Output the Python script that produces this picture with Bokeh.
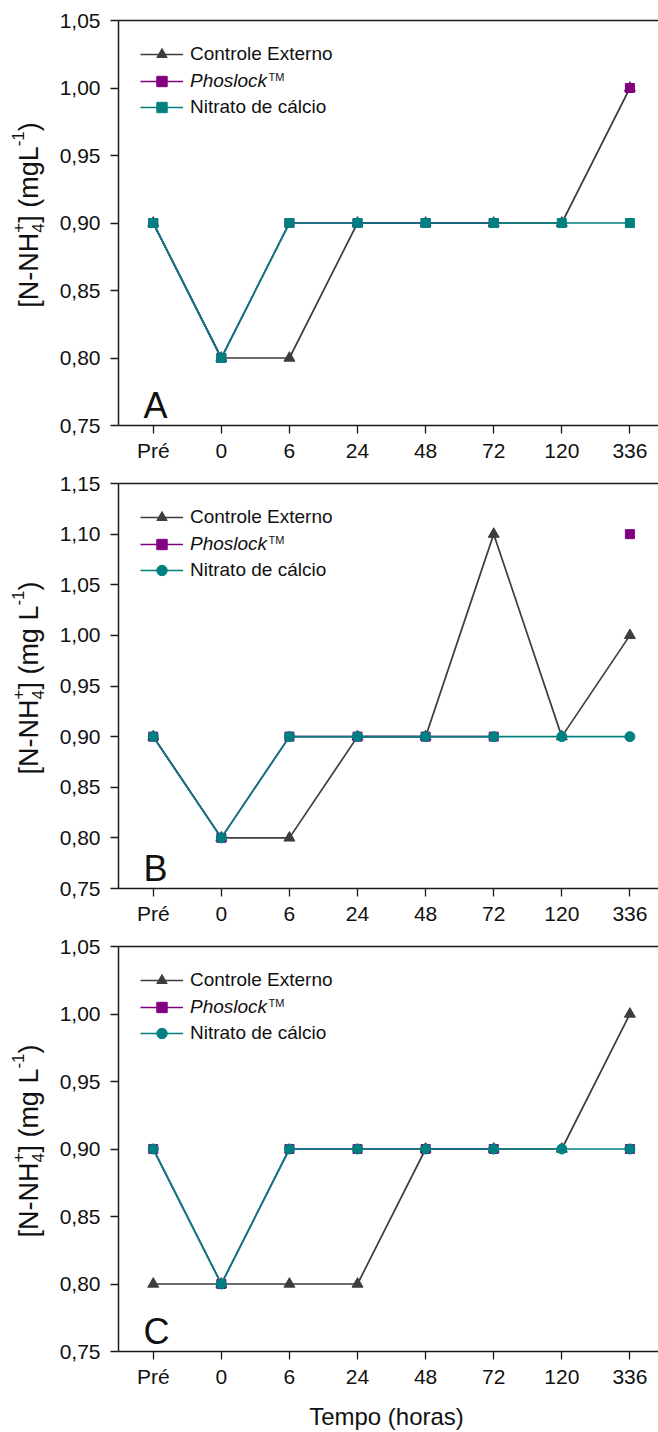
from bokeh.plotting import figure
from bokeh.layouts import column
from bokeh.models import (Range1d, FixedTicker, CustomJSTickFormatter, LinearAxis,
                          Legend, LegendItem, Label)
from bokeh.embed import file_html
from bokeh.resources import INLINE

nan = float("nan")

# sampling times (hours)
times = ["Pré", "0", "6", "24", "48", "72", "120", "336"]

# panel A
a_controle = [0.90, 0.80, 0.80, 0.90, 0.90, 0.90, 0.90, 1.00]
a_phoslock = [0.90, 0.80, 0.90, 0.90, 0.90, 0.90, nan, 1.00]
a_nitrato = [0.90, 0.80, 0.90, 0.90, 0.90, 0.90, 0.90, 0.90]
a_yticks = [0.75, 0.80, 0.85, 0.90, 0.95, 1.00, 1.05]

# panel B
b_controle = [0.90, 0.80, 0.80, 0.90, 0.90, 1.10, 0.90, 1.00]
b_phoslock = [0.90, 0.80, 0.90, 0.90, 0.90, 0.90, nan, 1.10]
b_nitrato = [0.90, 0.80, 0.90, 0.90, 0.90, 0.90, 0.90, 0.90]
b_yticks = [0.75, 0.80, 0.85, 0.90, 0.95, 1.00, 1.05, 1.10, 1.15]

# panel C
c_controle = [0.80, 0.80, 0.80, 0.80, 0.90, 0.90, 0.90, 1.00]
c_phoslock = [0.90, 0.80, 0.90, 0.90, 0.90, 0.90, nan, 0.90]
c_nitrato = [0.90, 0.80, 0.90, 0.90, 0.90, 0.90, 0.90, 0.90]
c_yticks = [0.75, 0.80, 0.85, 0.90, 0.95, 1.00, 1.05]

FONT = "Liberation Sans"
AXIS = "#1a1a1a"
TXT = "#111111"
C_CTRL = "#3d3d3d"
C_PHOS = "#800080"
C_NIT = "#008080"

X_LO, X_HI = -0.51, 7.42      # extent of the drawn axes (category units)
PX_PER_CAT = 68.09
LEFT_PAD = 118                # room for the y axis, inside the frame
TOP_PAD = 20
PLOT_H = 405                  # height of the axes box

# Arial-compatible advance widths (em) for the y-axis title pieces
ADV = {"[": .278, "]": .278, "N": .722, "H": .722, "-": .333, " ": .278, "(": .333,
       ")": .333, "m": .833, "g": .556, "L": .556, "4": .556, "+": .584, "1": .556}


def text_len(s, size):
    return sum(ADV[ch] for ch in s) * size


def add_ylabel(p, unit, base):
    big, small = 27, 17
    x0 = 28
    pieces = [("[N-NH", big, 0, True), ("4", small, 9, False), ("+", small, -11, True),
              ("] (" + unit, big, 0, True), ("-1", small, -11, True), (")", big, 0, True)]
    total = text_len("[N-NH", big) + text_len("+", small) + text_len("] (" + unit, big) \
        + text_len("-1", small) + text_len(")", big)
    y = base + PLOT_H / 2 + 8 - total / 2
    for txt, size, dx, advance in pieces:
        p.add_layout(Label(x=x0 + dx, y=y, x_units="screen", y_units="screen", text=txt,
                           angle=1.5707963267948966, text_font=FONT,
                           text_font_size=f"{size}px", text_color=TXT,
                           text_align="left", text_baseline="middle"))
        if advance:
            y += text_len(txt, size)


def add_legend(p, label, renderers, vy, italic=False):
    lg = Legend(items=[LegendItem(label=label, renderers=renderers)],
                location=(LEFT_PAD + 22, vy - 13),
                padding=0, margin=0, spacing=0, border_line_color=None,
                background_fill_alpha=0, glyph_width=43, glyph_height=26,
                label_standoff=7, label_height=26, label_text_font=FONT,
                label_text_font_size="19px", label_text_color=TXT,
                label_text_font_style="italic" if italic else "normal")
    p.add_layout(lg)


def panel(ctrl, phos, nitr, yticks, nit_marker, letter, unit, bottom, title=None):
    y0, y1 = yticks[0], yticks[-1]
    ppu = PLOT_H / (y1 - y0)
    H = TOP_PAD + PLOT_H + bottom
    p = figure(width=658, height=H, frame_width=658, frame_height=H,
               x_range=Range1d(X_LO - LEFT_PAD / PX_PER_CAT, X_HI),
               y_range=Range1d(y0 - bottom / ppu, y1 + TOP_PAD / ppu),
               output_backend="svg", toolbar_location=None,
               min_border=0, background_fill_color="white", border_fill_color="white")
    p.outline_line_color = None
    p.xgrid.visible = False
    p.ygrid.visible = False

    xs = list(range(len(times)))
    l1 = p.line(xs, ctrl, line_color=C_CTRL, line_width=1.7)
    m1 = p.scatter(xs, ctrl, marker="triangle", size=11, fill_color=C_CTRL, line_color=C_CTRL)
    l2 = p.line(xs, phos, line_color=C_PHOS, line_width=1.7)
    m2 = p.scatter(xs, phos, marker="square", size=9, fill_color=C_PHOS, line_color=C_PHOS)
    l3 = p.line(xs, nitr, line_color=C_NIT, line_width=1.7)
    m3 = p.scatter(xs, nitr, marker=nit_marker, size=10 if nit_marker == "circle" else 9,
                   fill_color=C_NIT, line_color=C_NIT)

    for ax in (p.xaxis[0], p.yaxis[0]):
        ax.axis_line_color = AXIS
        ax.axis_line_width = 1.5
        ax.major_tick_line_color = AXIS
        ax.major_tick_line_width = 1.3
        ax.major_tick_out = 8
        ax.major_tick_in = 0
        ax.minor_tick_line_color = None
        ax.major_label_text_font = FONT
        ax.major_label_text_font_size = "21px"
        ax.major_label_text_color = TXT

    p.xaxis.ticker = FixedTicker(ticks=xs)
    p.xaxis.bounds = (X_LO, X_HI)
    p.xaxis.fixed_location = y0
    p.xaxis.major_label_overrides = {i: t for i, t in enumerate(times)}
    p.xaxis.major_label_standoff = 5
    p.yaxis.fixed_location = X_LO
    p.yaxis.bounds = (y0, y1)
    p.yaxis.ticker = FixedTicker(ticks=yticks)
    p.yaxis.formatter = CustomJSTickFormatter(code="return tick.toFixed(2).replace('.', ',');")
    p.yaxis.major_label_standoff = 10

    top = LinearAxis(ticker=FixedTicker(ticks=[]), major_label_text_font_size="0px",
                     major_tick_line_color=None, minor_tick_line_color=None,
                     axis_line_color=AXIS, axis_line_width=1.5, bounds=(X_LO, X_HI),
                     fixed_location=y1)
    p.add_layout(top, "above")

    add_legend(p, "Controle Externo", [l1, m1], bottom + 371)
    add_legend(p, "Phoslock", [l2, m2], bottom + 344, italic=True)
    add_legend(p, "Nitrato de cálcio", [l3, m3], bottom + 318)
    p.add_layout(Label(x=LEFT_PAD + 150, y=bottom + 349, x_units="screen", y_units="screen",
                       text="TM", text_font=FONT, text_font_size="11px", text_color=TXT,
                       text_baseline="alphabetic"))

    p.add_layout(Label(x=LEFT_PAD + 25, y=bottom + 20, x_units="screen", y_units="screen",
                       text=letter, text_font=FONT, text_font_size="36px", text_color=TXT,
                       text_baseline="alphabetic"))
    add_ylabel(p, unit, bottom)

    if title:
        p.add_layout(Label(x=LEFT_PAD + 268, y=16, x_units="screen", y_units="screen",
                           text=title, text_font=FONT, text_font_size="24px",
                           text_color=TXT, text_align="center", text_baseline="alphabetic"))
    return p


pa = panel(a_controle, a_phoslock, a_nitrato, a_yticks, "square", "A", "mgL", 38)
pb = panel(b_controle, b_phoslock, b_nitrato, b_yticks, "circle", "B", "mg L", 38)
pc = panel(c_controle, c_phoslock, c_nitrato, c_yticks, "circle", "C", "mg L", 81,
           title="Tempo (horas)")

layout = column(pa, pb, pc, spacing=0)
open("out.html", "w").write(file_html(layout, INLINE))
